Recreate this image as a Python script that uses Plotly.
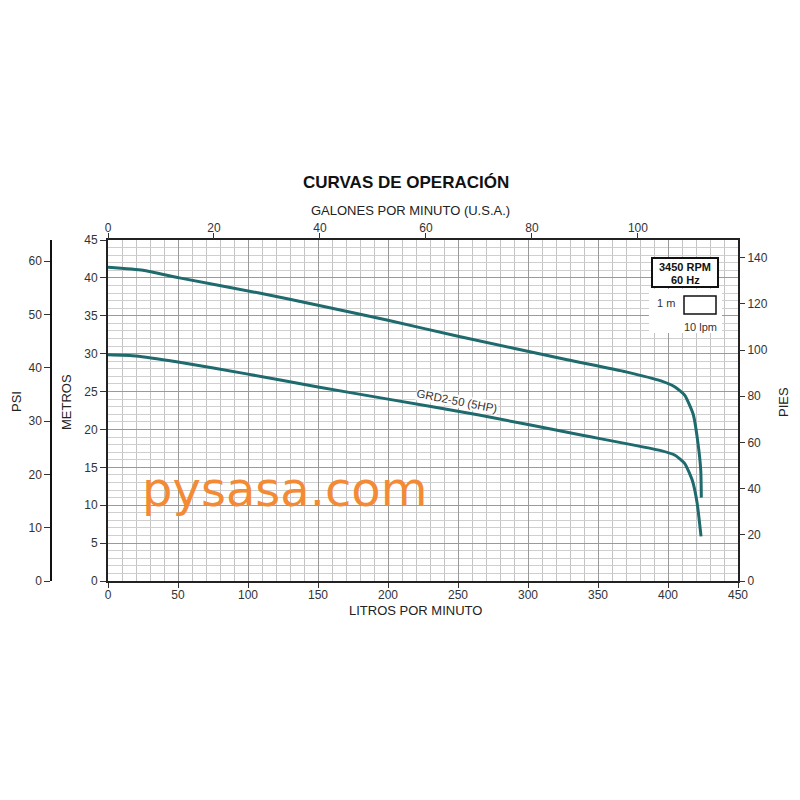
import plotly.graph_objects as go

# ---- data ----
upper_lpm = [0, 25, 51, 108, 150, 200, 250, 328, 370, 395, 405, 412, 418, 421.4, 423.4, 423.8]
upper_m = [41.4, 41.0, 40.0, 38.0, 36.4, 34.4, 32.3, 29.2, 27.6, 26.4, 25.6, 24.5, 22.0, 18.2, 14.6, 11.0]
lower_lpm = [0, 20, 50, 100, 150, 200, 265, 337, 395, 405, 412, 417.5, 420.8, 423.6]
lower_m = [29.85, 29.7, 28.9, 27.3, 25.6, 24.0, 21.9, 19.3, 17.2, 16.6, 15.5, 13.2, 10.3, 5.9]
curve_label = "GRD2-50 (5HP)"

LPM_MAX = 450
M_MAX = 45
GPM_PER_LPM = 1 / 3.785
PSI_PER_M = 1.4219
FT_PER_M = 3.2808

teal = "#1E6A6C"
tickfont = dict(family="Liberation Sans, Arial", size=12, color="#333")

fig = go.Figure()
for xs, ys in [(upper_lpm, upper_m), (lower_lpm, lower_m)]:
    fig.add_trace(go.Scatter(x=xs, y=ys, mode="lines",
                             line=dict(color=teal, width=3, shape="spline", smoothing=0.5),
                             showlegend=False, hoverinfo="skip"))
# invisible traces to activate the secondary axes
fig.add_trace(go.Scatter(x=[0], y=[0], xaxis="x2", yaxis="y", mode="markers",
                         marker=dict(opacity=0), showlegend=False, hoverinfo="skip"))
fig.add_trace(go.Scatter(x=[0], y=[0], xaxis="x", yaxis="y2", mode="markers",
                         marker=dict(opacity=0), showlegend=False, hoverinfo="skip"))
fig.add_trace(go.Scatter(x=[0], y=[0], xaxis="x", yaxis="y3", mode="markers",
                         marker=dict(opacity=0), showlegend=False, hoverinfo="skip"))

OFF = 8            # page body margin
W = H = 784
L, R, T, B = 43, 54, 232, 211
plot_w = W - L - R
plot_h = H - T - B
dom0 = (108 - OFF - L) / plot_w

fig.update_layout(
    width=W, height=H,
    margin=dict(l=L, r=R, t=T, b=B, pad=0),
    paper_bgcolor="white", plot_bgcolor="white",
    font=dict(family="Liberation Sans, Arial", color="#222"),
    xaxis=dict(domain=[dom0, 1], range=[0, LPM_MAX], dtick=50, ticks="outside", ticklen=5,
               ticklabelstandoff=-3,
               tickcolor="#333", tickfont=tickfont, showline=True, linecolor="#222", linewidth=2,
               mirror=True, showgrid=True, gridcolor="#9a9a9a", gridwidth=1, zeroline=False,
               minor=dict(dtick=10, showgrid=True, gridcolor="#c4c4c4", gridwidth=1)),
    xaxis2=dict(overlaying="x", side="top", anchor="y", range=[0, LPM_MAX * GPM_PER_LPM],
                dtick=20, ticks="outside", ticklen=6, tickcolor="#333", tickfont=tickfont,
                ticklabelstandoff=-4,
                showgrid=False, zeroline=False, showline=False),
    yaxis=dict(range=[0, M_MAX], dtick=5, ticks="outside", ticklen=6, tickcolor="#333",
               tickfont=tickfont, showline=True, linecolor="#222", linewidth=2, mirror=True,
               showgrid=True, gridcolor="#9a9a9a", gridwidth=1, zeroline=False,
               minor=dict(dtick=1, showgrid=True, gridcolor="#cfcfcf", gridwidth=1)),
    yaxis2=dict(overlaying="y", side="left", anchor="free", position=0,
                range=[0, M_MAX * PSI_PER_M], dtick=10, ticks="outside", ticklen=6,
                tickcolor="#333", tickfont=tickfont, showline=True, linecolor="#111",
                linewidth=1.5, showgrid=False, zeroline=False),
    yaxis3=dict(overlaying="y", side="right", anchor="x", range=[0, M_MAX * FT_PER_M],
                dtick=20, ticks="outside", ticklen=6, tickcolor="#333", tickfont=tickfont,
                showgrid=False, zeroline=False, showline=False),
)

def px(xp):
    return (xp - OFF - L) / plot_w

def py(yp):
    return (H - B - (yp - OFF)) / plot_h

ann = []
def text(x, y, s, size=13, bold=False, color="#222", angle=0, family="Liberation Sans, Arial", bg=None):
    d = dict(x=px(x), y=py(y), xref="paper", yref="paper", text=(f"<b>{s}</b>" if bold else s),
             showarrow=False, font=dict(size=size, color=color, family=family),
             textangle=angle, xanchor="center", yanchor="middle")
    if bg:
        d.update(bgcolor=bg, borderpad=0)
    ann.append(d)

text(406, 183, "CURVAS DE OPERACIÓN", size=17, bold=True, color="#111")
text(410, 210, "GALONES POR MINUTO (U.S.A.)", size=13)
text(415, 610, "LITROS POR MINUTO", size=13)
text(66, 402, "METROS", size=13, angle=-90)
text(16, 402, "PSI", size=13, angle=-90)
text(783, 402, "PIES", size=13, angle=-90)
text(285, 489, "pysasa.com", size=48, color="#F28A36", family="DejaVu Sans")
text(457, 401, curve_label, size=11.5, color="#333", angle=11, bg="rgba(255,255,255,0.85)")
text(685, 267, "3450 RPM", size=11, bold=True, color="#111")
text(685, 280, "60 Hz", size=11, bold=True, color="#111")
text(666, 303, "1 m", size=11, color="#333")
text(700, 327, "10 lpm", size=11, color="#333")
fig.update_layout(annotations=ann)

shapes = [
    dict(type="rect", xref="paper", yref="paper", x0=px(649), x1=px(722), y0=py(333), y1=py(289),
         fillcolor="white", line=dict(width=0), layer="above"),
    dict(type="rect", xref="paper", yref="paper", x0=px(652), x1=px(718), y0=py(287), y1=py(258),
         fillcolor="white", line=dict(color="#111", width=2), layer="above"),
    dict(type="rect", xref="paper", yref="paper", x0=px(684), x1=px(716), y0=py(314), y1=py(296),
         fillcolor="white", line=dict(color="#111", width=1.5), layer="above"),
]
fig.update_layout(shapes=shapes)

fig.write_html("out.html")
